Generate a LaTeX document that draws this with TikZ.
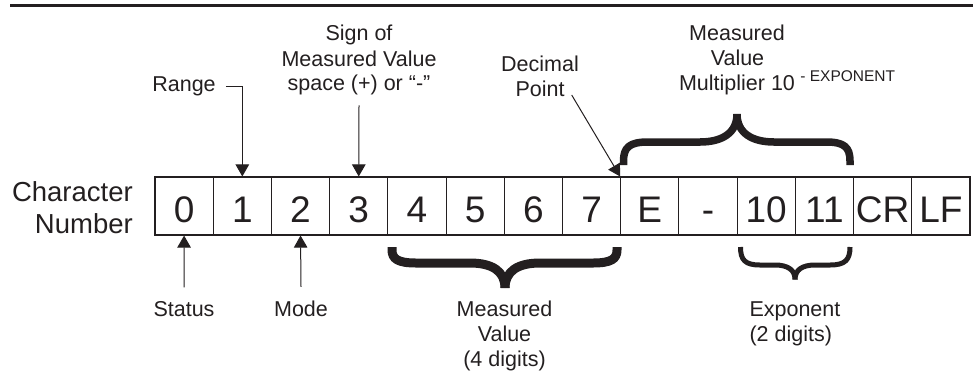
\documentclass[tikz,border=0pt]{standalone}
\usepackage{fontspec}
\setmainfont{Liberation Sans}
\usetikzlibrary{arrows.meta}
\definecolor{ink}{RGB}{35,31,32}
\begin{document}
\begin{tikzpicture}[x=1pt,y=-1pt,
  lbl/.style={font=\fontsize{21.5}{25}\selectfont, text=ink, inner sep=0pt, anchor=base},
  lblw/.style={lbl, anchor=base west},
  big/.style={font=\fontsize{27.5}{32}\selectfont, text=ink, inner sep=0pt, anchor=base east},
  supx/.style={font=\fontsize{15.5}{18}\selectfont, text=ink, inner sep=0pt, anchor=base west},
  cell/.style={draw=ink, line width=1.1pt, minimum width=58.21pt, minimum height=58pt,
    inner sep=0pt, text height=32pt, text depth=0pt, font=\fontsize{37}{40}\selectfont, text=ink},
  pointer/.style={draw=ink, line width=1pt, -{Triangle[width=13.5pt,length=12pt]}},
  bracestroke/.style={draw=ink, line cap=butt, line join=round},
]
\useasboundingbox (0,0) rectangle (973,376);

% top rule
\draw[ink, line width=3pt] (10,5.3) -- (973,5.3);

% cells
\foreach \t [count=\i from 0] in {0,1,2,3,4,5,6,7,E,-,10,11,CR,LF}
  \node[cell] (c\i) at ({155+58.21*(\i+0.5)},206) {\t};

% left label
\node[big] (charA) at (133,201.7) {Character};
\node[big] (charB) at (133,233.3) {Number};

% top labels
\node[lbl] (range) at (184,91.7) {Range};
\node[lbl] (sign1) at (359,40.7) {Sign of};
\node[lbl] (sign2) at (359,66) {Measured Value};
\node[lbl] (sign3) at (359,90.7) {space (+) or “-”};
\node[lbl] (dec1) at (540,71) {Decimal};
\node[lbl] (point) at (540,96) {Point};
\node[lbl] (mvt1) at (737,40.7) {Measured};
\node[lbl] (mvt2) at (737.5,65.7) {Value};
\node[lbl] (mult) at (737,90.7) {Multiplier 10};
\node[supx] (expo) at ([shift={(5pt,9pt)}]mult.base east) {- EXPONENT};

% bottom labels
\node[lbl] (status) at (184,316.7) {Status};
\node[lbl] (mode) at (301,316.7) {Mode};
\node[lbl] (mvb1) at (504.5,316.7) {Measured};
\node[lbl] (mvb2) at (504.5,341.7) {Value};
\node[lbl] (mvb3) at (504.5,366) {(4 digits)};
\node[lblw] (exp1) at (749.3,316.7) {Exponent};
\node[lblw] (exp2) at (749.3,341.7) {(2 digits)};

% pointers
\draw[pointer] ([xshift=10pt]range.east) -| (c1.north);
\draw[pointer] ([yshift=-10pt]sign3.south) -- (c3.north);
\draw[pointer] ([shift={(7pt,-6.7pt)}]point.east) -- (c8.north west);
\draw[pointer] ([yshift=14pt]status.north) -- (c0.south);
\draw[pointer] ([yshift=14pt]mode.north) -- (c2.south);

% top brace (cells 8..11)
\draw[bracestroke, line width=7.5pt]
  (623.5,165) -- (623.5,161) .. controls (623.5,147) and (630,142) .. (648,142)
  -- (700,142) .. controls (722,142) and (737,133) .. (737,114);
\draw[bracestroke, line width=7.5pt]
  (850,165) -- (850,161) .. controls (850,147) and (844,142) .. (826,142)
  -- (774,142) .. controls (752,142) and (737,133) .. (737,114);

% bottom brace (cells 4..7)
\draw[bracestroke, line width=9pt]
  (392,247) -- (392,250) .. controls (392,259) and (398,263) .. (416,263)
  -- (470,263) .. controls (492,263) and (505,271) .. (505,288);
\draw[bracestroke, line width=9pt]
  (617,247) -- (617,250) .. controls (617,259) and (611,263) .. (593,263)
  -- (540,263) .. controls (518,263) and (505,271) .. (505,288);

% exponent brace (cells 10..11)
\draw[bracestroke, line width=5pt]
  (740.5,247) .. controls (740.5,260) and (745,265) .. (760,265)
  -- (775,265) .. controls (788,265) and (795,270) .. (795,279.5);
\draw[bracestroke, line width=5pt]
  (850,247) .. controls (850,260) and (845,265) .. (830,265)
  -- (815,265) .. controls (802,265) and (795,270) .. (795,279.5);
\end{tikzpicture}
\end{document}
